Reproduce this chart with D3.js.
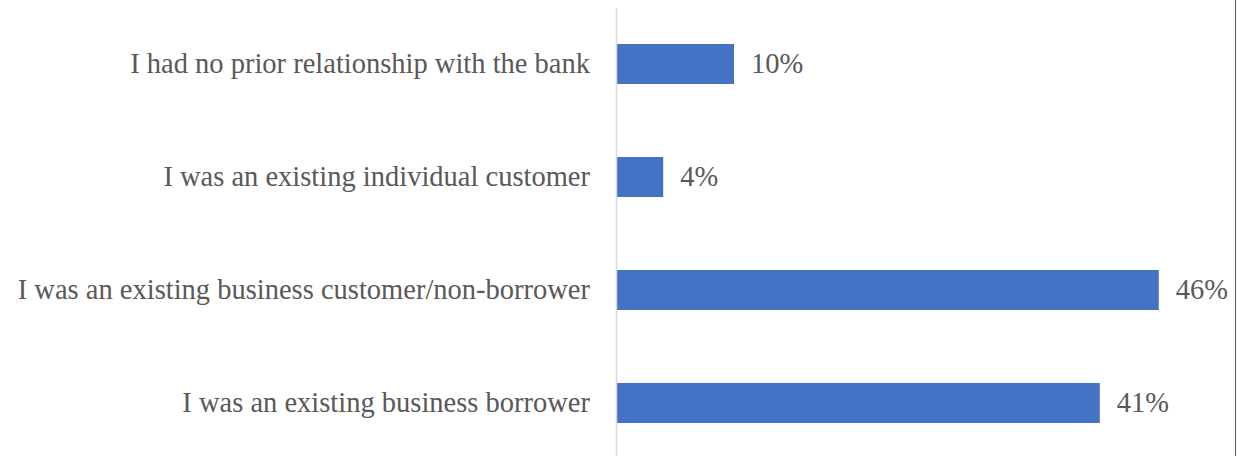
<!DOCTYPE html>
<html>
<head>
<meta charset="utf-8">
<script src="https://cdn.jsdelivr.net/npm/d3@7"></script>
<style>
  html, body { margin: 0; padding: 0; background: #fff; }
  svg { display: block; }
</style>
</head>
<body>
<script>
// Survey responses: relationship with the bank before applying
const categories = [
  "I had no prior relationship with the bank",
  "I was an existing individual customer",
  "I was an existing business customer/non-borrower",
  "I was an existing business borrower"
];
const shares = [0.10, 0.04, 0.46, 0.41];

const W = 1237, H = 456;
const fontFamily = "'Liberation Serif', 'Times New Roman', serif";
const textColor = "#595959";

const svg = d3.select("body").append("svg")
  .attr("width", W)
  .attr("height", H);

const x = d3.scaleLinear().domain([0, 0.5]).range([616, 1206]);
const y = d3.scaleBand()
  .domain(categories)
  .range([7.5, 459.5])
  .paddingInner(0.646)
  .paddingOuter(0.323);

const data = categories.map((c, i) => ({ category: c, value: shares[i] }));

// Bars
svg.append("g")
  .selectAll("rect")
  .data(data)
  .join("rect")
  .attr("x", x(0))
  .attr("y", d => y(d.category))
  .attr("width", d => x(d.value) - x(0))
  .attr("height", y.bandwidth())
  .attr("fill", "#4472C4");

// Category axis with the vertical baseline
const axis = svg.append("g")
  .attr("transform", `translate(${x(0)},0)`)
  .call(d3.axisLeft(y).tickSize(0).tickPadding(26));
axis.select(".domain")
  .attr("stroke", "#d9d9d9")
  .attr("stroke-width", 1.5);
axis.selectAll(".tick text")
  .attr("fill", textColor)
  .attr("font-family", fontFamily)
  .attr("font-size", 28.5)
  .attr("dy", "0.33em");

// Value labels
const fmt = d3.format(".0%");
svg.append("g")
  .selectAll("text")
  .data(data)
  .join("text")
  .attr("x", d => x(d.value) + 17)
  .attr("y", d => y(d.category) + y.bandwidth() / 2)
  .attr("dy", "0.33em")
  .attr("fill", textColor)
  .attr("font-family", fontFamily)
  .attr("font-size", 28.5)
  .text(d => fmt(d.value));

// Frame edge on the right
svg.append("line")
  .attr("x1", W - 1.5).attr("x2", W - 1.5)
  .attr("y1", 0).attr("y2", H)
  .attr("stroke", "#595959")
  .attr("stroke-width", 1);
</script>
</body>
</html>
